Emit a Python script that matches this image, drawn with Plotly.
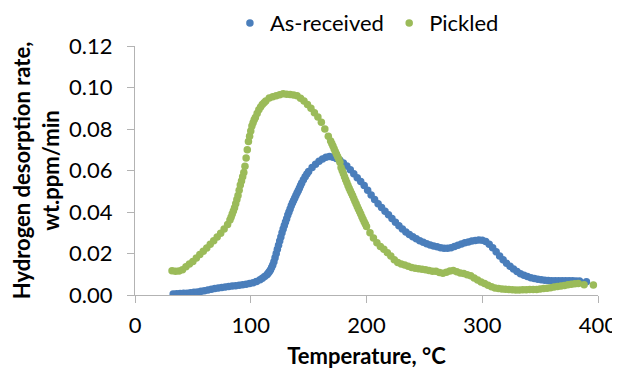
import plotly.graph_objects as go

# Pickled series: (temperature °C, desorption rate wt.ppm/min)
pickled_points = [
    (32, 0.0117), (35, 0.0114), (38, 0.0116), (41, 0.0122), (44, 0.0136), (47, 0.0149),
    (50, 0.0162), (53, 0.0178), (56, 0.0195), (59, 0.0211), (62, 0.0227), (65, 0.0244),
    (68, 0.0262), (71, 0.0280), (74, 0.0298), (77, 0.0318), (80, 0.0340),
    (82, 0.0362), (83, 0.0375), (84, 0.0390), (85, 0.0405), (86, 0.0420), (87, 0.0440),
    (88, 0.0460), (89, 0.0480), (90, 0.0505), (91, 0.0530), (92, 0.0550), (93, 0.0570),
    (94, 0.0590), (95, 0.0620), (96, 0.0660), (97, 0.0700), (98, 0.0740), (99, 0.0765),
    (100, 0.0790), (101, 0.0815), (102, 0.0830), (103, 0.0845),
    (104, 0.0855), (105.5, 0.0875), (107, 0.0893), (108.5, 0.0906), (110, 0.0918),
    (111.5, 0.0927), (113, 0.0935),
    (116, 0.0950), (119, 0.0956), (122, 0.0960), (125, 0.0965), (128, 0.0970), (131, 0.0968),
    (134, 0.0966), (137, 0.0964), (140, 0.0960), (143, 0.0948), (146, 0.0935), (149, 0.0918),
    (152, 0.0900), (155, 0.0878), (158, 0.0858), (161, 0.0832), (164, 0.0800), (167, 0.0765),
    (169, 0.0742), (170, 0.0730), (171, 0.0718), (172, 0.0705), (173, 0.0692), (174, 0.0680),
    (175, 0.0667), (176, 0.0655), (177, 0.0640), (178, 0.0615), (179, 0.0600), (180, 0.0585),
    (181, 0.0570), (182, 0.0555), (183, 0.0542), (184, 0.0528), (185, 0.0515), (186, 0.0503),
    (187, 0.0490), (188, 0.0478), (189, 0.0465), (190, 0.0452), (191, 0.0440), (192, 0.0427),
    (193, 0.0415), (194, 0.0402), (195, 0.0390), (196, 0.0377), (197, 0.0365), (198, 0.0353),
    (199, 0.0342), (200, 0.0330),
    (203, 0.0300), (206, 0.0275), (209, 0.0252), (212, 0.0234), (215, 0.0220), (218, 0.0204),
    (221, 0.0188), (224, 0.0170), (227, 0.0157), (230, 0.0150), (233, 0.0144), (236, 0.0138),
    (239, 0.0132), (242, 0.0129), (245, 0.0126), (248, 0.0124), (251, 0.0122), (254, 0.0118),
    (257, 0.0115), (260, 0.0114), (263, 0.0108), (266, 0.0105), (269, 0.0110), (272, 0.0116),
    (275, 0.0118), (278, 0.0112), (281, 0.0106), (284, 0.0104), (287, 0.0098), (290, 0.0093),
    (293, 0.0082), (296, 0.0072), (299, 0.0063), (302, 0.0055), (305, 0.0047), (308, 0.0040),
    (311, 0.0034), (314, 0.0031), (317, 0.0029), (320, 0.0028), (323, 0.0027), (326, 0.0025),
    (329, 0.0024), (332, 0.0024), (335, 0.0025), (338, 0.0025), (341, 0.0026), (344, 0.0026),
    (347, 0.0027), (350, 0.0029), (353, 0.0031), (356, 0.0033), (359, 0.0035), (362, 0.0038),
    (365, 0.0041), (368, 0.0043), (371, 0.0046), (374, 0.0049), (377, 0.0052), (380, 0.0054),
    (383, 0.0055), (388, 0.0050), (396, 0.0048),
]

# As-received series
asrec_points = [
    (33, 0.0005), (36, 0.0006), (39, 0.0007), (42, 0.0008), (45, 0.0009), (48, 0.0011),
    (51, 0.0013), (54, 0.0015), (57, 0.0018), (60, 0.0021), (63, 0.0024), (66, 0.0028),
    (69, 0.0031), (72, 0.0034), (75, 0.0036), (78, 0.0039), (81, 0.0041), (84, 0.0043),
    (87, 0.0045), (90, 0.0047), (93, 0.0049), (96, 0.0052), (99, 0.0055), (102, 0.0059),
    (105, 0.0065), (108, 0.0074), (110, 0.0081), (112, 0.0089), (114, 0.0097),
    (115, 0.0105), (116, 0.0112), (117, 0.0120), (118, 0.0132), (119, 0.0145), (120, 0.0160),
    (121, 0.0180), (122, 0.0200), (123, 0.0220), (124, 0.0240), (125, 0.0260), (126, 0.0280),
    (127, 0.0300), (128, 0.0318), (129, 0.0335), (130, 0.0352), (131, 0.0368), (132, 0.0385),
    (133, 0.0400), (134, 0.0415), (135, 0.0430), (136, 0.0443), (137, 0.0456), (138, 0.0468),
    (139, 0.0480), (140, 0.0491), (141, 0.0502), (142, 0.0515), (143, 0.0528), (144, 0.0540),
    (145.5, 0.0555), (147, 0.0570), (148.5, 0.0583), (150, 0.0595),
    (153, 0.0615), (156, 0.0630), (159, 0.0645), (162, 0.0656), (165, 0.0664), (168, 0.0667),
    (171, 0.0664), (174, 0.0658), (177, 0.0650), (180, 0.0636), (183, 0.0622), (186, 0.0604),
    (189, 0.0584), (192, 0.0565), (195, 0.0547), (198, 0.0528), (201, 0.0505), (204, 0.0482),
    (207, 0.0460), (210, 0.0440), (213, 0.0422), (216, 0.0404), (219, 0.0387), (222, 0.0369),
    (225, 0.0351), (228, 0.0334), (231, 0.0318), (234, 0.0304), (237, 0.0292), (240, 0.0281),
    (243, 0.0271), (246, 0.0262), (249, 0.0254), (252, 0.0247), (255, 0.0241), (258, 0.0236),
    (261, 0.0232), (264, 0.0228), (267, 0.0225), (270, 0.0225), (273, 0.0228), (276, 0.0234),
    (279, 0.0240), (282, 0.0246), (285, 0.0252), (288, 0.0256), (291, 0.0260), (294, 0.0263),
    (297, 0.0265), (300, 0.0264), (303, 0.0258), (306, 0.0245), (309, 0.0228), (312, 0.0208),
    (315, 0.0188), (318, 0.0170), (321, 0.0153), (324, 0.0138), (327, 0.0125), (330, 0.0113),
    (333, 0.0103), (336, 0.0095), (339, 0.0089), (342, 0.0083), (345, 0.0079), (348, 0.0076),
    (351, 0.0073), (354, 0.0071), (357, 0.0070), (360, 0.0069), (363, 0.0069), (366, 0.0069),
    (369, 0.0069), (372, 0.0069), (375, 0.0069), (378, 0.0069), (381, 0.0068), (384, 0.0067),
    (390, 0.0064),
]

pickled_T = [p[0] for p in pickled_points]
pickled_rate = [p[1] for p in pickled_points]
asrec_T = [p[0] for p in asrec_points]
asrec_rate = [p[1] for p in asrec_points]

x_ticks = [0, 100, 200, 300, 400]
y_ticks = [0.00, 0.02, 0.04, 0.06, 0.08, 0.10, 0.12]

BLUE = "#4a7ebb"
GREEN = "#9bbb59"
FONT = "Lato"

fig = go.Figure()
fig.add_trace(go.Scatter(x=asrec_T, y=asrec_rate, mode="markers", name="As-received",
                         legend="legend",
                         marker=dict(color=BLUE, size=7.5, line=dict(width=0))))
fig.add_trace(go.Scatter(x=pickled_T, y=pickled_rate, mode="markers", name="Pickled",
                         legend="legend2",
                         marker=dict(color=GREEN, size=7.5, line=dict(width=0))))

axis_col = "#b3b3b3"
leg_common = dict(orientation="h", yanchor="middle", xanchor="left", y=1.092,
                  font=dict(size=22), itemwidth=30, bgcolor="rgba(0,0,0,0)")
# The page body adds an 8px margin, so the figure is 8px smaller and offset accordingly.
fig.update_layout(
    width=612, height=361,
    margin=dict(l=127, r=22, t=38, b=74, autoexpand=False),
    paper_bgcolor="white", plot_bgcolor="white",
    font=dict(family=FONT, size=22, color="#000000"),
    showlegend=True,
    legend=dict(x=0.205, **leg_common),
    legend2=dict(x=0.549, **leg_common),
    xaxis=dict(range=[0, 400], tickvals=x_ticks, ticktext=[str(v) for v in x_ticks],
               showgrid=False, zeroline=False, showline=True, linecolor=axis_col, linewidth=1,
               ticks="outside", ticklen=7, tickcolor=axis_col, ticklabelstandoff=4,
               tickfont=dict(size=22),
               title=dict(text="<b>Temperature, °C</b>", font=dict(size=22), standoff=11)),
    yaxis=dict(range=[0, 0.12], tickvals=y_ticks, ticktext=[f"{v:.2f}" for v in y_ticks],
               showgrid=False, zeroline=False, showline=True, linecolor=axis_col, linewidth=1,
               ticks="outside", ticklen=7, tickcolor=axis_col, ticklabelstandoff=10,
               tickfont=dict(size=22),
               title=dict(text="<b>Hydrogen desorption rate,<br>wt.ppm/min</b>",
                          font=dict(size=22), standoff=6)),
)
fig.write_html("out.html")
